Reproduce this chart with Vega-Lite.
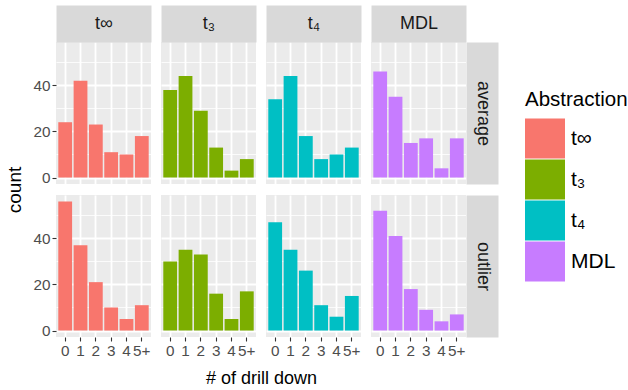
{
  "$schema": "https://vega.github.io/schema/vega-lite/v6.json",
  "padding": {"left": 5, "top": 14, "right": 5, "bottom": 5},
  "background": "#FFFFFF",
  "datasets": {
    "counts": [
      {"agg": "average", "abs": "t∞", "dd": "0", "count": 24},
      {"agg": "average", "abs": "t∞", "dd": "1", "count": 42},
      {"agg": "average", "abs": "t∞", "dd": "2", "count": 23},
      {"agg": "average", "abs": "t∞", "dd": "3", "count": 11},
      {"agg": "average", "abs": "t∞", "dd": "4", "count": 10},
      {"agg": "average", "abs": "t∞", "dd": "5+", "count": 18},
      {"agg": "average", "abs": "t₃", "dd": "0", "count": 38},
      {"agg": "average", "abs": "t₃", "dd": "1", "count": 44},
      {"agg": "average", "abs": "t₃", "dd": "2", "count": 29},
      {"agg": "average", "abs": "t₃", "dd": "3", "count": 13},
      {"agg": "average", "abs": "t₃", "dd": "4", "count": 3},
      {"agg": "average", "abs": "t₃", "dd": "5+", "count": 8},
      {"agg": "average", "abs": "t₄", "dd": "0", "count": 34},
      {"agg": "average", "abs": "t₄", "dd": "1", "count": 44},
      {"agg": "average", "abs": "t₄", "dd": "2", "count": 18},
      {"agg": "average", "abs": "t₄", "dd": "3", "count": 8},
      {"agg": "average", "abs": "t₄", "dd": "4", "count": 10},
      {"agg": "average", "abs": "t₄", "dd": "5+", "count": 13},
      {"agg": "average", "abs": "MDL", "dd": "0", "count": 46},
      {"agg": "average", "abs": "MDL", "dd": "1", "count": 35},
      {"agg": "average", "abs": "MDL", "dd": "2", "count": 15},
      {"agg": "average", "abs": "MDL", "dd": "3", "count": 17},
      {"agg": "average", "abs": "MDL", "dd": "4", "count": 4},
      {"agg": "average", "abs": "MDL", "dd": "5+", "count": 17},
      {"agg": "outlier", "abs": "t∞", "dd": "0", "count": 56},
      {"agg": "outlier", "abs": "t∞", "dd": "1", "count": 37},
      {"agg": "outlier", "abs": "t∞", "dd": "2", "count": 21},
      {"agg": "outlier", "abs": "t∞", "dd": "3", "count": 10},
      {"agg": "outlier", "abs": "t∞", "dd": "4", "count": 5},
      {"agg": "outlier", "abs": "t∞", "dd": "5+", "count": 11},
      {"agg": "outlier", "abs": "t₃", "dd": "0", "count": 30},
      {"agg": "outlier", "abs": "t₃", "dd": "1", "count": 35},
      {"agg": "outlier", "abs": "t₃", "dd": "2", "count": 33},
      {"agg": "outlier", "abs": "t₃", "dd": "3", "count": 16},
      {"agg": "outlier", "abs": "t₃", "dd": "4", "count": 5},
      {"agg": "outlier", "abs": "t₃", "dd": "5+", "count": 17},
      {"agg": "outlier", "abs": "t₄", "dd": "0", "count": 47},
      {"agg": "outlier", "abs": "t₄", "dd": "1", "count": 35},
      {"agg": "outlier", "abs": "t₄", "dd": "2", "count": 26},
      {"agg": "outlier", "abs": "t₄", "dd": "3", "count": 11},
      {"agg": "outlier", "abs": "t₄", "dd": "4", "count": 6},
      {"agg": "outlier", "abs": "t₄", "dd": "5+", "count": 15},
      {"agg": "outlier", "abs": "MDL", "dd": "0", "count": 52},
      {"agg": "outlier", "abs": "MDL", "dd": "1", "count": 41},
      {"agg": "outlier", "abs": "MDL", "dd": "2", "count": 18},
      {"agg": "outlier", "abs": "MDL", "dd": "3", "count": 9},
      {"agg": "outlier", "abs": "MDL", "dd": "4", "count": 4},
      {"agg": "outlier", "abs": "MDL", "dd": "5+", "count": 7}
    ]
  },
  "data": {"name": "counts"},
  "columns": 4,
  "bounds": "flush",
  "spacing": {"row": 11, "column": 10},
  "concat": [
    {
      "width": 95, "height": 142,
      "transform": [{"filter": "datum.agg === 'average' && datum.abs === 't∞'"}],
      "mark": "bar",
      "encoding": {
        "x": {"field": "dd", "type": "ordinal", "sort": ["0", "1", "2", "3", "4", "5+"], "scale": {"paddingInner": 0.1, "paddingOuter": 0.15},
          "axis": {"orient": "top", "labels": false, "ticks": false, "grid": true, "gridWidth": 1.8, "bandPosition": 0.5, "domain": true, "domainColor": "#D9D9D9", "domainWidth": 37, "offset": 18.5, "title": "t∞", "titleY": 0, "titleBaseline": "middle", "titleFontSize": 18, "titleColor": "#1A1A1A"}},
        "y": {"field": "count", "type": "quantitative", "scale": {"domain": [-2.8, 58.8], "nice": false, "zero": false},
          "axis": {"orient": "left", "values": [0, 10, 20, 30, 40, 50], "labelExpr": "datum.value % 20 === 0 ? datum.label : ''", "tickOpacity": {"condition": {"test": "datum.value % 20 === 0", "value": 1}, "value": 0}, "gridWidth": {"condition": {"test": "datum.value % 20 === 0", "value": 1.8}, "value": 0.8}, "title": "count", "titleY": 147.5, "titlePadding": 8, "titleFontSize": 19}},
        "y2": {"datum": 0},
        "color": {"field": "abs", "type": "nominal", "scale": {"domain": ["t∞", "t₃", "t₄", "MDL"], "range": ["#F8766D", "#7CAE00", "#00BFC4", "#C77CFF"]}, "legend": {"title": "Abstraction", "orient": "none", "legendX": 469, "legendY": 48}}
      }
    },
    {
      "width": 95, "height": 142,
      "transform": [{"filter": "datum.agg === 'average' && datum.abs === 't₃'"}],
      "mark": "bar",
      "encoding": {
        "x": {"field": "dd", "type": "ordinal", "sort": ["0", "1", "2", "3", "4", "5+"], "scale": {"paddingInner": 0.1, "paddingOuter": 0.15},
          "axis": {"orient": "top", "labels": false, "ticks": false, "grid": true, "gridWidth": 1.8, "bandPosition": 0.5, "domain": true, "domainColor": "#D9D9D9", "domainWidth": 37, "offset": 18.5, "title": "t₃", "titleY": 0, "titleBaseline": "middle", "titleFontSize": 18, "titleColor": "#1A1A1A"}},
        "y": {"field": "count", "type": "quantitative", "scale": {"domain": [-2.8, 58.8], "nice": false, "zero": false},
          "axis": {"values": [0, 10, 20, 30, 40, 50], "labels": false, "ticks": false, "gridWidth": {"condition": {"test": "datum.value % 20 === 0", "value": 1.8}, "value": 0.8}, "title": null}},
        "y2": {"datum": 0},
        "color": {"field": "abs", "type": "nominal", "scale": {"domain": ["t∞", "t₃", "t₄", "MDL"], "range": ["#F8766D", "#7CAE00", "#00BFC4", "#C77CFF"]}, "legend": {"title": "Abstraction", "orient": "none", "legendX": 469, "legendY": 48}}
      }
    },
    {
      "width": 95, "height": 142,
      "transform": [{"filter": "datum.agg === 'average' && datum.abs === 't₄'"}],
      "mark": "bar",
      "encoding": {
        "x": {"field": "dd", "type": "ordinal", "sort": ["0", "1", "2", "3", "4", "5+"], "scale": {"paddingInner": 0.1, "paddingOuter": 0.15},
          "axis": {"orient": "top", "labels": false, "ticks": false, "grid": true, "gridWidth": 1.8, "bandPosition": 0.5, "domain": true, "domainColor": "#D9D9D9", "domainWidth": 37, "offset": 18.5, "title": "t₄", "titleY": 0, "titleBaseline": "middle", "titleFontSize": 18, "titleColor": "#1A1A1A"}},
        "y": {"field": "count", "type": "quantitative", "scale": {"domain": [-2.8, 58.8], "nice": false, "zero": false},
          "axis": {"values": [0, 10, 20, 30, 40, 50], "labels": false, "ticks": false, "gridWidth": {"condition": {"test": "datum.value % 20 === 0", "value": 1.8}, "value": 0.8}, "title": null}},
        "y2": {"datum": 0},
        "color": {"field": "abs", "type": "nominal", "scale": {"domain": ["t∞", "t₃", "t₄", "MDL"], "range": ["#F8766D", "#7CAE00", "#00BFC4", "#C77CFF"]}, "legend": {"title": "Abstraction", "orient": "none", "legendX": 469, "legendY": 48}}
      }
    },
    {
      "width": 95, "height": 142,
      "transform": [{"filter": "datum.agg === 'average' && datum.abs === 'MDL'"}],
      "mark": "bar",
      "encoding": {
        "x": {"field": "dd", "type": "ordinal", "sort": ["0", "1", "2", "3", "4", "5+"], "scale": {"paddingInner": 0.1, "paddingOuter": 0.15},
          "axis": {"orient": "top", "labels": false, "ticks": false, "grid": true, "gridWidth": 1.8, "bandPosition": 0.5, "domain": true, "domainColor": "#D9D9D9", "domainWidth": 37, "offset": 18.5, "title": "MDL", "titleY": 0, "titleBaseline": "middle", "titleFontSize": 18, "titleColor": "#1A1A1A"}},
        "y": {"field": "count", "type": "quantitative", "scale": {"domain": [-2.8, 58.8], "nice": false, "zero": false},
          "axis": {"orient": "right", "values": [0, 10, 20, 30, 40, 50], "labels": false, "ticks": false, "gridWidth": {"condition": {"test": "datum.value % 20 === 0", "value": 1.8}, "value": 0.8}, "domain": true, "domainColor": "#D9D9D9", "domainWidth": 32, "offset": 16, "title": "average", "titleAngle": 90, "titleX": 0, "titleY": 71, "titleBaseline": "middle", "titleAlign": "center", "titleFontSize": 18, "titleColor": "#1A1A1A"}},
        "y2": {"datum": 0},
        "color": {"field": "abs", "type": "nominal", "scale": {"domain": ["t∞", "t₃", "t₄", "MDL"], "range": ["#F8766D", "#7CAE00", "#00BFC4", "#C77CFF"]}, "legend": {"title": "Abstraction", "orient": "none", "legendX": 469, "legendY": 48}}
      }
    },
    {
      "width": 95, "height": 142,
      "transform": [{"filter": "datum.agg === 'outlier' && datum.abs === 't∞'"}],
      "mark": "bar",
      "encoding": {
        "x": {"field": "dd", "type": "ordinal", "sort": ["0", "1", "2", "3", "4", "5+"], "scale": {"paddingInner": 0.1, "paddingOuter": 0.15},
          "axis": {"orient": "bottom", "grid": true, "gridWidth": 1.8, "bandPosition": 0.5, "labelAngle": 0, "labelOverlap": false, "labelBound": false, "title": "# of drill down", "titleX": 205, "titlePadding": 11}},
        "y": {"field": "count", "type": "quantitative", "scale": {"domain": [-2.8, 58.8], "nice": false, "zero": false},
          "axis": {"orient": "left", "values": [0, 10, 20, 30, 40, 50], "labelExpr": "datum.value % 20 === 0 ? datum.label : ''", "tickOpacity": {"condition": {"test": "datum.value % 20 === 0", "value": 1}, "value": 0}, "gridWidth": {"condition": {"test": "datum.value % 20 === 0", "value": 1.8}, "value": 0.8}, "title": null}},
        "y2": {"datum": 0},
        "color": {"field": "abs", "type": "nominal", "scale": {"domain": ["t∞", "t₃", "t₄", "MDL"], "range": ["#F8766D", "#7CAE00", "#00BFC4", "#C77CFF"]}, "legend": {"title": "Abstraction", "orient": "none", "legendX": 469, "legendY": 48}}
      }
    },
    {
      "width": 95, "height": 142,
      "transform": [{"filter": "datum.agg === 'outlier' && datum.abs === 't₃'"}],
      "mark": "bar",
      "encoding": {
        "x": {"field": "dd", "type": "ordinal", "sort": ["0", "1", "2", "3", "4", "5+"], "scale": {"paddingInner": 0.1, "paddingOuter": 0.15},
          "axis": {"orient": "bottom", "grid": true, "gridWidth": 1.8, "bandPosition": 0.5, "labelAngle": 0, "labelOverlap": false, "labelBound": false, "title": null}},
        "y": {"field": "count", "type": "quantitative", "scale": {"domain": [-2.8, 58.8], "nice": false, "zero": false},
          "axis": {"values": [0, 10, 20, 30, 40, 50], "labels": false, "ticks": false, "gridWidth": {"condition": {"test": "datum.value % 20 === 0", "value": 1.8}, "value": 0.8}, "title": null}},
        "y2": {"datum": 0},
        "color": {"field": "abs", "type": "nominal", "scale": {"domain": ["t∞", "t₃", "t₄", "MDL"], "range": ["#F8766D", "#7CAE00", "#00BFC4", "#C77CFF"]}, "legend": {"title": "Abstraction", "orient": "none", "legendX": 469, "legendY": 48}}
      }
    },
    {
      "width": 95, "height": 142,
      "transform": [{"filter": "datum.agg === 'outlier' && datum.abs === 't₄'"}],
      "mark": "bar",
      "encoding": {
        "x": {"field": "dd", "type": "ordinal", "sort": ["0", "1", "2", "3", "4", "5+"], "scale": {"paddingInner": 0.1, "paddingOuter": 0.15},
          "axis": {"orient": "bottom", "grid": true, "gridWidth": 1.8, "bandPosition": 0.5, "labelAngle": 0, "labelOverlap": false, "labelBound": false, "title": null}},
        "y": {"field": "count", "type": "quantitative", "scale": {"domain": [-2.8, 58.8], "nice": false, "zero": false},
          "axis": {"values": [0, 10, 20, 30, 40, 50], "labels": false, "ticks": false, "gridWidth": {"condition": {"test": "datum.value % 20 === 0", "value": 1.8}, "value": 0.8}, "title": null}},
        "y2": {"datum": 0},
        "color": {"field": "abs", "type": "nominal", "scale": {"domain": ["t∞", "t₃", "t₄", "MDL"], "range": ["#F8766D", "#7CAE00", "#00BFC4", "#C77CFF"]}, "legend": {"title": "Abstraction", "orient": "none", "legendX": 469, "legendY": 48}}
      }
    },
    {
      "width": 95, "height": 142,
      "transform": [{"filter": "datum.agg === 'outlier' && datum.abs === 'MDL'"}],
      "mark": "bar",
      "encoding": {
        "x": {"field": "dd", "type": "ordinal", "sort": ["0", "1", "2", "3", "4", "5+"], "scale": {"paddingInner": 0.1, "paddingOuter": 0.15},
          "axis": {"orient": "bottom", "grid": true, "gridWidth": 1.8, "bandPosition": 0.5, "labelAngle": 0, "labelOverlap": false, "labelBound": false, "title": null}},
        "y": {"field": "count", "type": "quantitative", "scale": {"domain": [-2.8, 58.8], "nice": false, "zero": false},
          "axis": {"orient": "right", "values": [0, 10, 20, 30, 40, 50], "labels": false, "ticks": false, "gridWidth": {"condition": {"test": "datum.value % 20 === 0", "value": 1.8}, "value": 0.8}, "domain": true, "domainColor": "#D9D9D9", "domainWidth": 32, "offset": 16, "title": "outlier", "titleAngle": 90, "titleX": 0, "titleY": 71, "titleBaseline": "middle", "titleAlign": "center", "titleFontSize": 18, "titleColor": "#1A1A1A"}},
        "y2": {"datum": 0},
        "color": {"field": "abs", "type": "nominal", "scale": {"domain": ["t∞", "t₃", "t₄", "MDL"], "range": ["#F8766D", "#7CAE00", "#00BFC4", "#C77CFF"]}, "legend": {"title": "Abstraction", "orient": "none", "legendX": 469, "legendY": 48}}
      }
    }
  ],
  "config": {
    "font": "Liberation Sans",
    "view": {"fill": "#EBEBEB", "stroke": null},
    "axis": {"domain": false, "grid": true, "gridColor": "#FFFFFF", "gridOpacity": 1, "labelColor": "#4D4D4D", "labelFontSize": 15.3, "labelFont": "Liberation Sans", "tickColor": "#333333", "tickSize": 4, "tickWidth": 1.1, "labelPadding": 2, "titleFontWeight": "normal", "titleFontSize": 18, "titleColor": "#000000", "titleFont": "Liberation Sans"},
    "legend": {"titleFontSize": 20.5, "titleFontWeight": "normal", "titleColor": "#000000", "titleFont": "Liberation Sans", "labelFontSize": 21, "labelColor": "#000000", "labelFont": "Liberation Sans", "symbolType": "square", "symbolSize": 1600, "symbolStrokeWidth": 0, "symbolOpacity": 1, "rowPadding": 1, "labelOffset": 6, "titlePadding": 8}
  }
}
